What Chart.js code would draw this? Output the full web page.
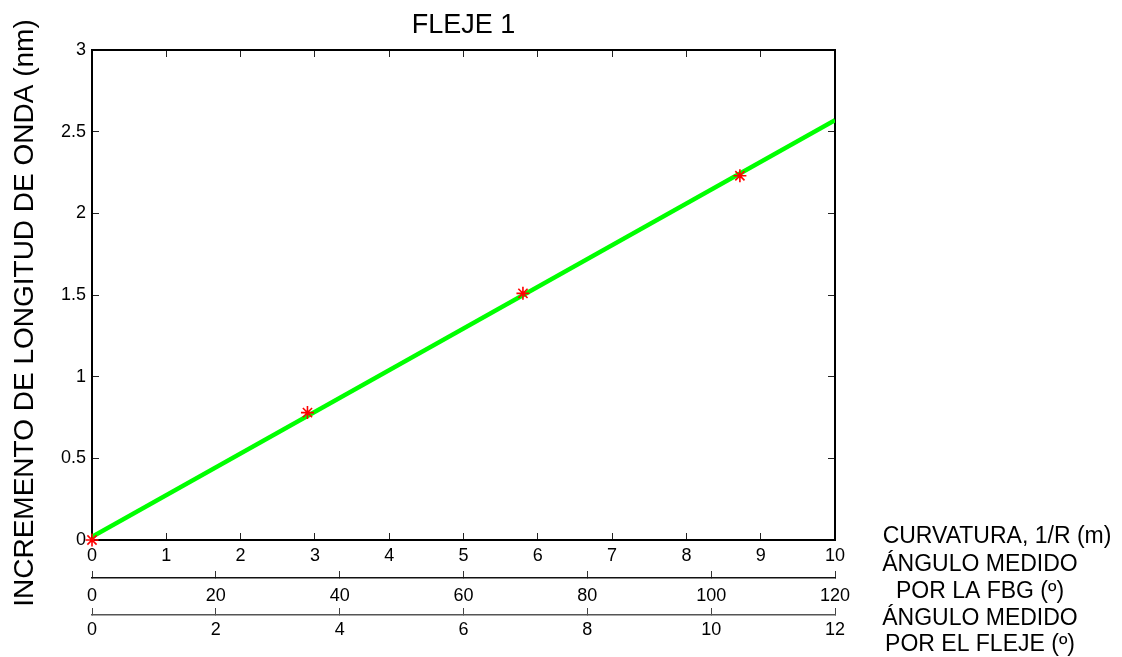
<!DOCTYPE html>
<html>
<head>
<meta charset="utf-8">
<title>FLEJE 1</title>
<script src="https://cdn.jsdelivr.net/npm/chart.js@4.4.1/dist/chart.umd.min.js"></script>
<style>
  html, body { margin: 0; padding: 0; background: #ffffff; }
  canvas { display: block; }
</style>
</head>
<body>
<canvas id="grafico" width="1122" height="657"></canvas>
<script>
// Tick labels of each axis
const curvaturaTicks = [0, 1, 2, 3, 4, 5, 6, 7, 8, 9, 10];
const anguloFbgTicks = [0, 20, 40, 60, 80, 100, 120];
const anguloFlejeTicks = [0, 2, 4, 6, 8, 10, 12];
const incrementoTicks = [0, 0.5, 1, 1.5, 2, 2.5, 3];

// Measured points: curvature 1/R (m) and wavelength shift (nm)
const medidaCurvatura = [0, 2.90, 5.80, 8.72];
const medidaIncremento = [0, 0.78, 1.51, 2.23];

// Linear fit, evaluated at the ends of the curvature range
const ajusteCurvatura = [0, 10];
const ajusteIncremento = [0.02, 2.57];

// Texts
const titulo = 'FLEJE 1';
const tituloEjeY = 'INCREMENTO DE LONGITUD DE ONDA (nm)';
const rotuloCurvatura = ['CURVATURA, 1/R (m)'];
const rotuloFbg = ['ÁNGULO MEDIDO', 'POR LA FBG (º)'];
const rotuloFleje = ['ÁNGULO MEDIDO', 'POR EL FLEJE (º)'];

const FAMILIA = "'Liberation Sans', Arial, Helvetica, sans-serif";
Chart.defaults.font.family = FAMILIA;
Chart.defaults.color = '#000000';

const puntosMedida = medidaCurvatura.map((x, i) => ({ x: x, y: medidaIncremento[i] }));
const puntosAjuste = ajusteCurvatura.map((x, i) => ({ x: x, y: ajusteIncremento[i] }));

function fijarTicks(valores) {
  return function (scale) {
    scale.ticks = valores.map(v => ({ value: v }));
  };
}
const textoTick = v => String(v);

// Ticks drawn inward, MATLAB style
const TICK = -7;

// Axis labels at the right and the rotated y title
const rotulos = {
  id: 'rotulos',
  afterDraw(chart) {
    const ctx = chart.ctx;
    ctx.save();
    ctx.fillStyle = '#000000';
    ctx.textAlign = 'center';
    ctx.textBaseline = 'alphabetic';

    ctx.save();
    ctx.font = '28px ' + FAMILIA;
    ctx.translate(33, 313);
    ctx.rotate(-Math.PI / 2);
    ctx.fillText(tituloEjeY, 0, 0);
    ctx.restore();

    ctx.font = '23px ' + FAMILIA;
    ctx.fillText(rotuloCurvatura[0], 997, 543);
    ctx.fillText(rotuloFbg[0], 980, 571);
    ctx.fillText(rotuloFbg[1], 980, 598);
    ctx.fillText(rotuloFleje[0], 980, 625);
    ctx.fillText(rotuloFleje[1], 980, 651);
    ctx.restore();
  }
};

const fuenteTicks = { size: 18, family: FAMILIA };

new Chart(document.getElementById('grafico'), {
  type: 'scatter',
  data: {
    datasets: [
      {
        label: 'Medidas',
        data: puntosMedida,
        showLine: false,
        pointStyle: 'star',
        pointRadius: 6.5,
        pointBorderWidth: 1.6,
        borderColor: '#ff0000',
        backgroundColor: '#ff0000',
        clip: false,
        order: 0
      },
      {
        label: 'Ajuste',
        data: puntosAjuste,
        showLine: true,
        pointRadius: 0,
        borderColor: '#00ff00',
        borderWidth: 4.5,
        fill: false,
        order: 1
      }
    ]
  },
  options: {
    responsive: false,
    devicePixelRatio: 1,
    animation: false,
    events: [],
    layout: { padding: { top: 0, right: 287, bottom: 0, left: 0 } },
    plugins: {
      legend: { display: false },
      tooltip: { enabled: false },
      title: {
        display: true,
        text: titulo,
        fullSize: false,
        color: '#000000',
        font: { size: 27, weight: 'normal', family: FAMILIA },
        padding: { top: 9.3, bottom: 8.3 }
      }
    },
    scales: {
      x: {
        type: 'linear',
        position: 'bottom',
        min: 0, max: 10,
        afterBuildTicks: fijarTicks(curvaturaTicks),
        afterFit: s => { s.height = 38; },
        border: { display: true, color: '#000000', width: 2 },
        grid: { drawOnChartArea: false, drawTicks: true, tickLength: TICK, color: '#222222', lineWidth: 1 },
        ticks: { font: fuenteTicks, padding: 12, autoSkip: false, maxRotation: 0, callback: textoTick }
      },
      x2: {
        type: 'linear',
        position: 'bottom',
        min: 0, max: 120,
        afterBuildTicks: fijarTicks(anguloFbgTicks),
        afterFit: s => { s.height = 37; },
        border: { display: true, color: '#111111', width: 1.4 },
        grid: { drawOnChartArea: false, drawTicks: true, tickLength: TICK, color: '#333333', lineWidth: 1 },
        ticks: { font: fuenteTicks, padding: 14, autoSkip: false, maxRotation: 0, callback: textoTick }
      },
      x3: {
        type: 'linear',
        position: 'bottom',
        min: 0, max: 12,
        afterBuildTicks: fijarTicks(anguloFlejeTicks),
        afterFit: s => { s.height = 42; },
        border: { display: true, color: '#555555', width: 1.4 },
        grid: { drawOnChartArea: false, drawTicks: true, tickLength: TICK, color: '#444444', lineWidth: 1 },
        ticks: { font: fuenteTicks, padding: 11, autoSkip: false, maxRotation: 0, callback: textoTick }
      },
      y: {
        type: 'linear',
        position: 'left',
        min: 0, max: 3,
        afterBuildTicks: fijarTicks(incrementoTicks),
        afterFit: s => { s.width = 92; },
        border: { display: true, color: '#000000', width: 2 },
        grid: { drawOnChartArea: false, drawTicks: true, tickLength: TICK, color: '#222222', lineWidth: 1 },
        ticks: { font: fuenteTicks, padding: 13, callback: textoTick }
      },
      xSup: {
        type: 'linear',
        position: 'top',
        min: 0, max: 10,
        afterBuildTicks: fijarTicks(curvaturaTicks),
        afterFit: s => { s.height = 0; },
        border: { display: true, color: '#000000', width: 2 },
        grid: { drawOnChartArea: false, drawTicks: true, tickLength: TICK, color: '#222222', lineWidth: 1 },
        ticks: { display: false }
      },
      yDer: {
        type: 'linear',
        position: 'right',
        min: 0, max: 3,
        afterBuildTicks: fijarTicks(incrementoTicks),
        afterFit: s => { s.width = 0; },
        border: { display: true, color: '#000000', width: 2 },
        grid: { drawOnChartArea: false, drawTicks: true, tickLength: TICK, color: '#222222', lineWidth: 1 },
        ticks: { display: false }
      }
    }
  },
  plugins: [rotulos]
});
</script>
</body>
</html>
